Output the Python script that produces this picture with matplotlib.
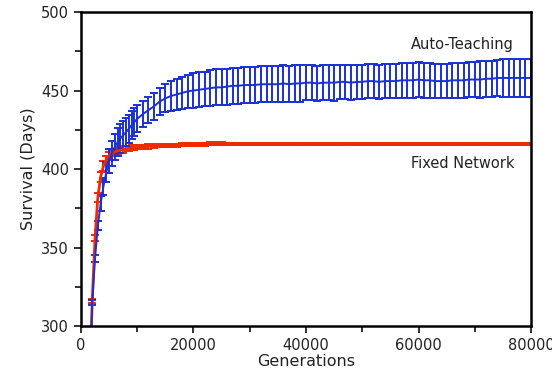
import matplotlib
matplotlib.use("Agg")
import matplotlib.pyplot as plt
from matplotlib.ticker import MultipleLocator

generations = [1500, 2000, 2500, 3000, 3500, 4000, 4500, 5000, 5500, 6000,
               6500, 7000, 7500, 8000, 8500, 9000, 9500, 10000,
               11000, 12000, 13000, 14000, 15000, 16000, 17000, 18000, 19000, 20000,
               21000, 22000, 23000, 24000, 25000, 26000, 27000, 28000, 29000, 30000,
               31000, 32000, 33000, 34000, 35000, 36000, 37000, 38000, 39000, 40000,
               41000, 42000, 43000, 44000, 45000, 46000, 47000, 48000, 49000, 50000,
               51000, 52000, 53000, 54000, 55000, 56000, 57000, 58000, 59000, 60000,
               61000, 62000, 63000, 64000, 65000, 66000, 67000, 68000, 69000, 70000,
               71000, 72000, 73000, 74000, 75000, 76000, 77000, 78000, 79000, 80000]

auto_mean = [250, 315, 343, 364, 378, 389, 398, 405, 410, 414,
             417, 419.5, 421.5, 423.5, 425.5, 428, 430, 432,
             435, 437.5, 440, 443, 445, 446.5, 447.5, 448.5, 449.5, 450,
             450.5, 451, 451.5, 452, 452, 452.5, 453, 453, 453.5, 453.5,
             453.5, 454, 454, 454, 454, 454.5, 454, 454.5, 454.5, 455,
             455, 454.5, 455, 455, 455, 455.5, 455.5, 455, 455.5, 455.5,
             456, 456, 455.5, 456, 456, 456, 456.5, 456.5, 456.5, 457,
             456.5, 456.5, 456, 456, 456, 456.5, 456.5, 456.5, 457, 457,
             457, 457.5, 457.5, 458, 458, 458, 458, 458, 458, 458]

auto_err = [1, 1.5, 2, 3, 5, 5.5, 6.5, 7.5, 8, 8.5,
            9, 9, 9, 9, 9, 9, 9, 8.5,
            8.5, 8.5, 8.5, 8.5, 9, 9.5, 10, 10, 10.5, 11,
            11, 11, 11.5, 11.5, 11.5, 11.5, 11.5, 11.5, 11.5, 11.5,
            11.5, 11.5, 11.5, 11.5, 11.5, 11.5, 11.5, 11.5, 11.5, 11,
            11, 11, 11, 11, 11.5, 11, 11, 11, 11, 11,
            11, 11, 11, 11, 11, 11, 11, 11, 11, 11,
            11, 11, 11, 11, 11, 11, 11, 11, 11, 11,
            11.5, 11.5, 11.5, 11.5, 12, 12, 12, 12, 12, 12]

fixed_mean = [260, 316, 356, 382, 395, 402, 406, 408.5, 410, 411,
              411.5, 412, 412.5, 413, 413, 413.5, 413.5, 414,
              414, 414.5, 414.5, 415, 415, 415, 415, 415.5, 415.5, 415.5,
              415.5, 415.5, 416, 416, 416, 416, 416, 416, 416, 416,
              416, 416, 416, 416, 416, 416, 416, 416, 416, 416,
              416, 416, 416, 416, 416, 416, 416, 416, 416, 416,
              416, 416, 416, 416, 416, 416, 416, 416, 416, 416,
              416, 416, 416, 416, 416, 416, 416, 416, 416, 416,
              416, 416, 416, 416, 416, 416, 416, 416, 416, 416]

fixed_err = [1, 1.5, 2, 3, 3, 3, 2.5, 2.5, 2, 2,
             2, 2, 2, 1.5, 1.5, 1.5, 1.5, 1.5,
             1.5, 1.5, 1.2, 1.2, 1.2, 1, 1, 1, 1, 1,
             1, 1, 1, 1, 1, 0.8, 0.8, 0.8, 0.8, 0.8,
             0.8, 0.8, 0.8, 0.8, 0.8, 0.8, 0.8, 0.8, 0.8, 0.8,
             0.8, 0.8, 0.8, 0.8, 0.8, 0.8, 0.8, 0.8, 0.8, 0.8,
             0.8, 0.8, 0.8, 0.8, 0.8, 0.8, 0.8, 0.8, 0.8, 0.8,
             0.8, 0.8, 0.8, 0.8, 0.8, 0.8, 0.8, 0.8, 0.8, 0.8,
             0.8, 0.8, 0.8, 0.8, 0.8, 0.8, 0.8, 0.8, 0.8, 0.8]

red = "#ee2a00"
blue = "#1a30d8"

fig = plt.figure(figsize=(5.52, 3.79), dpi=100)
ax = fig.add_axes([0.1467, 0.1398, 0.8153, 0.8285])

ax.errorbar(generations, fixed_mean, yerr=fixed_err, color=red, lw=2,
            elinewidth=1.4, capsize=3, capthick=1.4)
ax.errorbar(generations, auto_mean, yerr=auto_err, color=blue, lw=1.4,
            elinewidth=1.4, capsize=3, capthick=1.4)

ax.text(77000, 479.5, "Auto-Teaching", ha="right", va="center", fontsize=10.5, color="#222222")
ax.text(77000, 403.5, "Fixed Network", ha="right", va="center", fontsize=10.5, color="#222222")

ax.set_xlim(0, 80000)
ax.set_ylim(300, 500)
ax.xaxis.set_major_locator(MultipleLocator(20000))
ax.xaxis.set_minor_locator(MultipleLocator(10000))
ax.yaxis.set_major_locator(MultipleLocator(50))
ax.yaxis.set_minor_locator(MultipleLocator(25))
ax.tick_params(which="both", direction="out", width=1.3, labelsize=10.5, colors="#222222")
ax.tick_params(which="major", length=5)
ax.tick_params(which="minor", length=4)
for s in ax.spines.values():
    s.set_linewidth(1.8)
ax.set_xlabel("Generations", fontsize=11.5, labelpad=1, color="#222222")
ax.set_ylabel("Survival (Days)", fontsize=11.5, labelpad=4, color="#222222")

fig.savefig("out.png", dpi=100)
